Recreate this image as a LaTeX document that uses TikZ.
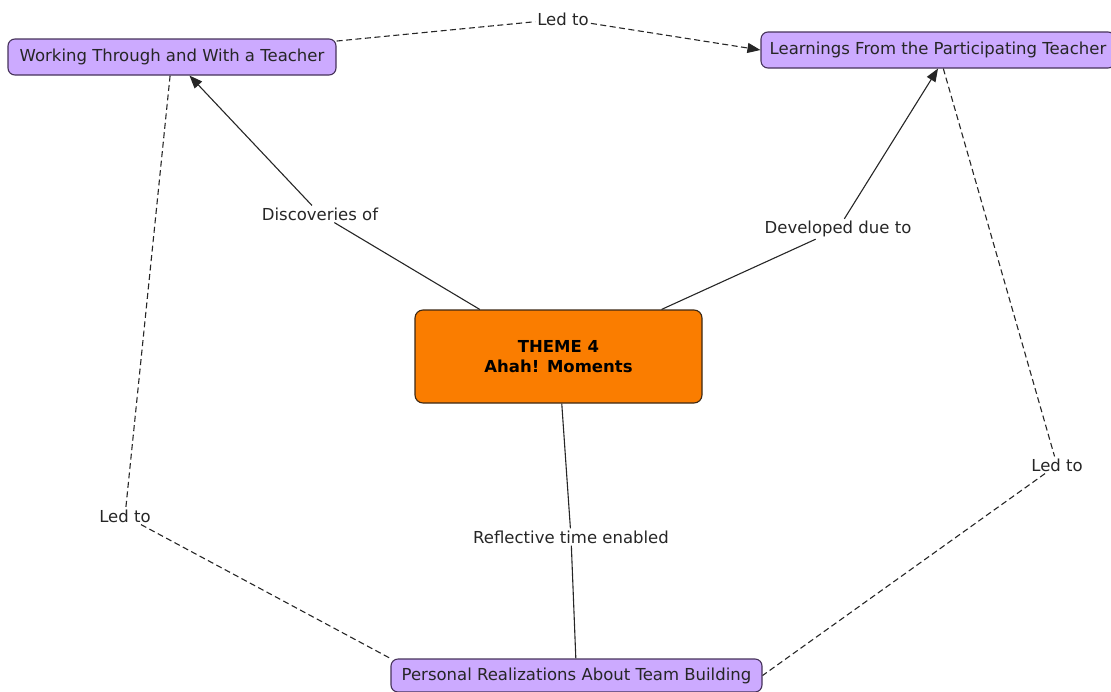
\documentclass[tikz,border=0pt]{standalone}
\usepackage{fontspec}
\setmainfont{DejaVu Sans}
\usetikzlibrary{arrows.meta}
\definecolor{conceptfill}{RGB}{204,170,255}
\definecolor{conceptline}{RGB}{70,50,90}
\definecolor{themefill}{RGB}{250,125,0}
\definecolor{themeline}{RGB}{60,40,20}
\tikzset{
  concept/.style={draw=conceptline, fill=conceptfill, rounded corners=7pt,
    line width=1.1pt, inner xsep=0pt, inner ysep=0pt, minimum height=36pt,
    font=\fontsize{16.5}{19}\selectfont, text=black!85},
  theme/.style={draw=themeline, fill=themefill, rounded corners=8pt,
    line width=1.1pt, minimum width=287pt, minimum height=93pt,
    align=center, font=\fontsize{16.5}{20}\selectfont\bfseries},
  linklabel/.style={inner sep=2pt, font=\fontsize{16.5}{19}\selectfont, text=black!85},
  link/.style={draw=black!85, line width=1.1pt},
  dashlink/.style={link, dash pattern=on 6pt off 3.5pt},
  tip/.style={-{Triangle[length=13pt,width=10pt]}}
}
\begin{document}
\begin{tikzpicture}[x=1pt, y=-1pt]
\useasboundingbox (0,0) rectangle (1111,691);

% concepts
\node[theme] (T) at (558.5,356.5) {THEME 4\\Ahah! Moments};
\node[concept, minimum width=328pt] (W) at (172,57) {Working Through and With a Teacher};
\node[concept, minimum width=354pt] (L) at (938,50) {Learnings From the Participating Teacher};
\node[concept, minimum width=371pt, minimum height=33pt] (P) at (576.5,675.5) {Personal Realizations About Team Building};

% linking phrases
\node[linklabel] (ltop)   at (563,19)  {Led to};
\node[linklabel] (disc)   at (320,214) {Discoveries of};
\node[linklabel] (dev)    at (838,229) {Developed due to};
\node[linklabel] (refl)   at (571,537) {Reflective time enabled};
\node[linklabel] (lleft)  at (125,516) {Led to};
\node[linklabel] (lright) at (1057,465) {Led to};

% solid links from the theme
\draw[link] (T) -- (disc);
\draw[link, tip] (disc) -- (W);
\draw[link] (T) -- (dev);
\draw[link, tip] (dev) -- (L.south);
\draw[link] (T) -- (refl);
\draw[link] (refl) -- (P);

% dashed cross-links
\draw[dashlink] (W) -- (ltop);
\draw[dashlink, tip] (ltop) -- (L.west);
\draw[dashlink] (W) -- (lleft);
\draw[dashlink] (lleft) -- (P.north west);
\draw[dashlink] (L) -- (lright);
\draw[dashlink] (lright) -- (P.east);
\end{tikzpicture}
\end{document}
